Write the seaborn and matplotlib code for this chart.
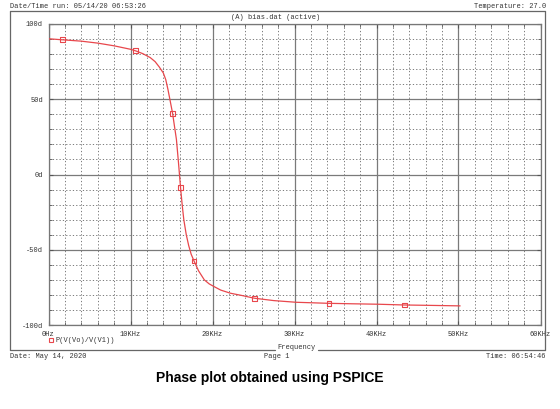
import numpy as np
import pandas as pd
import seaborn as sb
import matplotlib.pyplot as plt
from matplotlib.lines import Line2D
from matplotlib.ticker import MultipleLocator

# phase curve (kHz, degrees)
freq_khz = [0, 1.7, 4, 6, 8, 10, 10.6, 11.5, 12.4, 13, 13.5, 14, 14.3, 14.56, 14.8,
            15.13, 15.4, 15.6, 15.85, 16.1, 16.3, 16.5, 16.8, 17.1, 17.4, 17.75,
            18.3, 19, 19.6, 20.2, 21, 22.2, 23.5, 25.1, 27.5, 30.2, 34.2, 37, 40.2,
            43.4, 47, 50.2]
phase_deg = [90.2, 89.5, 88.6, 87.3, 85.5, 83.2, 82.2, 80.3, 77.7, 75, 71.5, 67.5, 63,
             56.7, 50, 40.7, 30.7, 23.3, 8, -8.5, -20, -30, -40, -47.3, -53, -57.5,
             -64, -70, -72.7, -74.5, -76.8, -78.9, -80.3, -82.2, -83.8, -84.9, -85.6,
             -85.9, -86.2, -86.7, -87, -87.3]

# symbol positions on the trace
mark_khz = [1.7, 10.6, 15.13, 16.1, 17.75, 25.1, 34.2, 43.4]
mark_deg = [89.5, 82.2, 40.7, -8.5, -57.5, -82.2, -85.6, -86.7]

x_ticks = [0, 10, 20, 30, 40, 50, 60]
x_labels = ["0Hz", "10KHz", "20KHz", "30KHz", "40KHz", "50KHz", "60KHz"]
y_ticks = [-100, -50, 0, 50, 100]
y_labels = ["-100d", "-50d", "0d", "50d", "100d"]

curve = pd.DataFrame({"f": freq_khz, "p": phase_deg})
marks = pd.DataFrame({"f": mark_khz, "p": mark_deg})

sb.set_style("white")
mono = "Liberation Mono"
red = "#e8474c"
W, H = 560, 409

fig = plt.figure(figsize=(5.6, 4.09), dpi=100)
ax = fig.add_axes([48.5 / W, 1 - 325 / H, (540.5 - 48.5) / W, (325 - 24) / H])

sb.lineplot(data=curve, x="f", y="p", ax=ax, color=red, linewidth=0.9, zorder=5)
sb.scatterplot(data=marks, x="f", y="p", ax=ax, marker="s", s=12, facecolor="none",
               edgecolor=red, linewidth=0.8, zorder=6)

ax.set_xlim(0, 60)
ax.set_ylim(-100, 100)
ax.set_xticks(x_ticks)
ax.set_xticklabels(x_labels, fontfamily=mono, fontsize=5)
ax.set_yticks(y_ticks)
ax.set_yticklabels(y_labels, fontfamily=mono, fontsize=5)
ax.xaxis.set_minor_locator(MultipleLocator(2))
ax.yaxis.set_minor_locator(MultipleLocator(10))
ax.grid(which="major", color="#7a7a7a", linewidth=0.9, linestyle="-")
ax.grid(which="minor", color="#666666", linewidth=0.6, linestyle=(0, (1.5, 2.5)))
ax.tick_params(which="both", direction="in", length=3, color="#555555",
               top=True, right=True, bottom=True, left=True, pad=4, labelcolor="#333333")
ax.tick_params(which="minor", length=2)
ax.set_xlabel("")
ax.set_ylabel("")
for s in ax.spines.values():
    s.set_color("#777777")
    s.set_linewidth(0.9)

# outer frame
def fx(x):
    return x / W

def fy(y):
    return 1 - y / H

frame_kw = dict(color="#666666", linewidth=0.9)
fig.add_artist(Line2D([fx(10), fx(545)], [fy(11), fy(11)], **frame_kw))
fig.add_artist(Line2D([fx(10), fx(10)], [fy(11), fy(350)], **frame_kw))
fig.add_artist(Line2D([fx(545), fx(545)], [fy(11), fy(350)], **frame_kw))
fig.add_artist(Line2D([fx(10), fx(275)], [fy(350), fy(350)], **frame_kw))
fig.add_artist(Line2D([fx(318), fx(545)], [fy(350), fy(350)], **frame_kw))

tkw = dict(fontfamily=mono, fontsize=5, color="#333333", va="center")
fig.text(fx(10), fy(6), "Date/Time run: 05/14/20 06:53:26", ha="left", **tkw)
fig.text(fx(546), fy(6), "Temperature: 27.0", ha="right", **tkw)
fig.text(fx(276), fy(17.5), "(A) bias.dat (active)", ha="center", **tkw)
fig.text(fx(296), fy(347.5), "Frequency", ha="center", **tkw)
fig.text(fx(56), fy(341), "P(V(Vo)/V(V1))", ha="left", **tkw)
fig.add_artist(Line2D([fx(50.5)], [fy(340)], marker="s", markersize=2.5,
                      markerfacecolor="none", markeredgecolor=red, markeredgewidth=0.8))
fig.text(fx(10), fy(356.5), "Date: May 14, 2020", ha="left", **tkw)
fig.text(fx(277), fy(356.5), "Page 1", ha="center", **tkw)
fig.text(fx(545), fy(356.5), "Time: 06:54:46", ha="right", **tkw)

fig.text(fx(270), fy(378), "Phase plot obtained using PSPICE", ha="center", va="center",
         fontfamily="Liberation Sans", fontweight="bold", fontsize=10, color="black")

fig.savefig("out.png", dpi=100, facecolor="white")
